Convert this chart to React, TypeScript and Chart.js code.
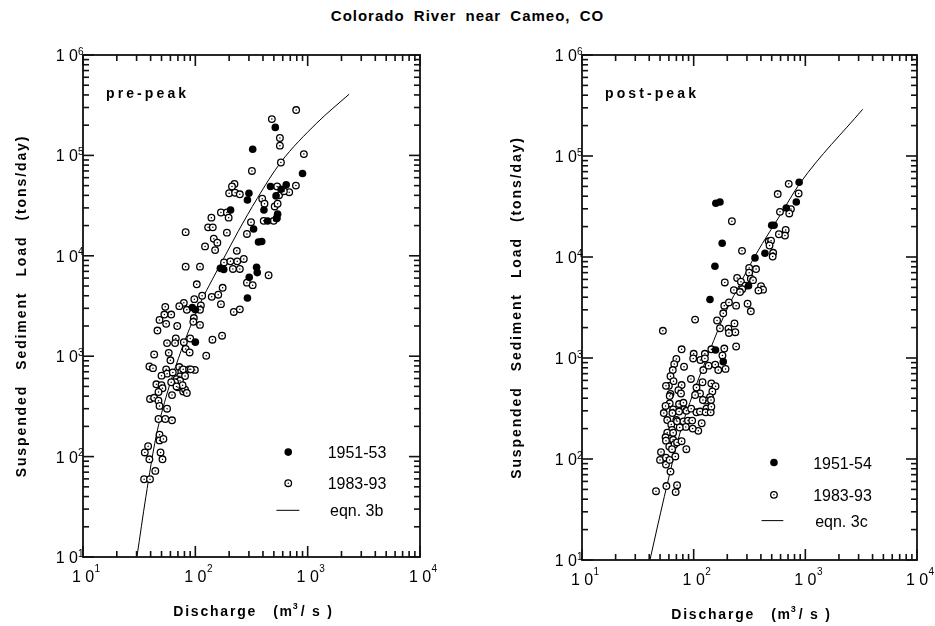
import React, { useEffect, useRef } from "react";
import { Chart, registerables } from "chart.js";
Chart.register(...registerables);

// ---------- data: pre-peak ----------
const preQ5153 = [515, 324, 900, 300, 291, 467, 644, 580, 523, 408, 440, 540, 530, 206, 330, 365, 390, 351, 356, 302, 291, 167, 179, 94, 100, 100];
const preL5153 = [190000, 115000, 66000, 42000, 36000, 49000, 51000, 46000, 39500, 28600, 22200, 26000, 23600, 28600, 18500, 13700, 13900, 7700, 6800, 6100, 3800, 7500, 7300, 3060, 2900, 1380];

const preQ8393 = [790, 480, 566, 566, 578, 925, 319, 223, 212, 200, 226, 249, 394, 413, 535, 556, 685, 786, 614, 509, 540, 406, 498, 530, 288, 313, 169, 191, 198, 139, 130, 143, 146, 157, 150, 122, 191, 82, 234, 180, 205, 216, 236, 249, 270, 82, 110, 288, 324, 449, 103, 115, 140, 160, 175, 169, 220, 249, 98, 79, 84, 72, 54, 61, 53, 48, 55, 46, 69, 112, 110, 97, 96, 110, 173, 67, 142, 125, 66, 79, 90, 82, 89, 56, 58, 60, 43, 39, 42, 55, 56, 50, 63, 72, 75, 78, 73, 81, 88, 99, 91, 68, 73, 70, 78, 81, 66, 84, 77, 45, 50, 51, 61, 68, 39.5, 43, 47, 48, 47, 62, 56, 47, 54, 62, 48, 48, 52, 38, 35.5, 39, 49, 51, 44, 35, 39.5];
const preL8393 = [283000, 230000, 149000, 125000, 85000, 103000, 70000, 52000, 49000, 42000, 42500, 41000, 37000, 33000, 49000, 40000, 43000, 50000, 44000, 31000, 33000, 22300, 22300, 23600, 16500, 21600, 27000, 27000, 24000, 24000, 19200, 19200, 14800, 13500, 11400, 12400, 17000, 17200, 11200, 8600, 8800, 7400, 8800, 7400, 9300, 7800, 7800, 5400, 5100, 6400, 5200, 4000, 3900, 4100, 4800, 3300, 2760, 2930, 3700, 3400, 2900, 3150, 3100, 2600, 2600, 2300, 2100, 1800, 2000, 3200, 2900, 2400, 2200, 2050, 1600, 1500, 1460, 1010, 1350, 1380, 1500, 1180, 1090, 1350, 1080, 910, 1040, 790, 760, 740, 670, 640, 690, 780, 700, 740, 630, 635, 740, 730, 740, 590, 570, 490, 445, 465, 550, 430, 515, 525, 515, 480, 550, 500, 375, 385, 360, 320, 440, 410, 300, 237, 237, 230, 165, 145, 150, 127, 110, 94, 110, 94, 72, 59.5, 59.5];

const preCurveQ = [30.2, 36.3, 44.7, 56.2, 70.8, 89.1, 112, 141, 178, 240, 355, 575, 1200, 2340];
const preCurveL = [10, 40, 158, 430, 955, 1900, 3470, 5750, 9330, 17400, 37200, 85100, 209000, 407000];

// ---------- data: post-peak ----------
const postQ5154 = [880, 830, 675, 500, 525, 435, 354, 310, 158, 172, 180, 155, 140, 157, 184];
const postL5154 = [55000, 35000, 30600, 20600, 20600, 10900, 9800, 5200, 34000, 35000, 13700, 8100, 3800, 1200, 920];

const postQ8393 = [710, 566, 871, 743, 718, 593, 667, 657, 580, 470, 493, 478, 515, 510, 220, 271, 190, 245, 265, 314, 314, 325, 362, 340, 401, 418, 380, 290, 272, 229, 260, 188, 184, 207, 240, 304, 325, 162, 172, 205, 232, 236, 207, 103, 53, 240, 78, 100, 126, 144, 188, 70, 99, 115, 126, 181, 67, 82, 122, 136, 156, 166, 193, 65, 62, 66, 60, 56.5, 94.5, 120, 106, 114, 78, 73, 77, 144, 157, 147, 140, 62, 128, 121, 103, 61, 61, 56, 65.5, 74, 81, 82, 54, 58, 64.5, 70, 74, 86, 95, 106, 114, 130, 128, 142, 143, 144, 63, 71, 81, 89, 97, 118, 110, 98, 85, 75, 64, 58, 56, 65.5, 56.5, 60.5, 65.5, 67.5, 71, 78, 64, 86, 51, 50, 56.5, 56.5, 61, 68.5, 62, 46, 57, 69, 71];
const postL8393 = [53000, 42000, 42600, 29800, 27000, 28000, 18500, 16300, 16800, 14300, 14500, 13000, 11000, 10100, 22600, 11500, 5600, 6200, 5700, 7800, 7000, 6100, 7600, 5900, 5150, 4750, 4650, 5200, 4800, 4700, 4500, 3300, 2770, 3550, 3300, 3450, 2900, 2350, 1970, 1950, 2200, 1800, 1770, 2400, 1860, 1300, 1220, 1100, 1100, 1220, 1240, 980, 990, 955, 990, 1060, 870, 820, 760, 840, 860, 760, 780, 760, 660, 590, 530, 530, 620, 575, 510, 445, 540, 480, 445, 560, 525, 467, 410, 440, 378, 384, 430, 420, 355, 335, 310, 350, 360, 310, 285, 243, 285, 243, 295, 300, 315, 290, 295, 315, 290, 290, 384, 330, 220, 236, 236, 240, 240, 226, 190, 200, 208, 205, 194, 182, 164, 182, 152, 133, 155, 140, 146, 150, 125, 125, 117, 98, 103, 88, 98, 106, 75, 48, 54, 47, 55];

const postCurveQ = [40.6, 54.6, 75.3, 99, 140, 191, 243, 366, 593, 895, 3260];
const postCurveL = [10, 42.4, 180, 447, 1200, 2770, 4710, 10900, 25800, 53700, 290000];

// ---------- axis tick labels ----------
const xDecades = [1, 2, 3, 4];
const yDecades = [1, 2, 3, 4, 5, 6];
const minorMultipliers = [2, 3, 4, 5, 6, 7, 8, 9];

const FONT = '"Liberation Sans", Arial, Helvetica, sans-serif';

type PanelCfg = {
  label: string;
  legendFilled: string;
  legendOpen: string;
  legendLine: string;
  pad: { left: number; right: number; top: number; bottom: number };
  yTitleX: number;
  tickColor: string;
  legend: { markerX: number; lineX0: number; lineX1: number; textX: number; eqTextX: number; y1: number; y2: number; y3: number };
};

function pts(q: number[], l: number[]) {
  return q.map((v, i) => ({ x: v, y: l[i] }));
}

function openCircle(ctx: CanvasRenderingContext2D, x: number, y: number) {
  ctx.beginPath();
  ctx.arc(x, y, 3.3, 0, Math.PI * 2);
  ctx.fillStyle = "#fff";
  ctx.fill();
  ctx.lineWidth = 1.3;
  ctx.strokeStyle = "#000";
  ctx.stroke();
  ctx.beginPath();
  ctx.arc(x, y, 0.75, 0, Math.PI * 2);
  ctx.fillStyle = "#000";
  ctx.fill();
}

function makeDecor(cfg: PanelCfg) {
  return {
    id: "decor",
    afterDatasetDraw(chart: any, args: any) {
      if (args.index !== 1) return;
      const ctx: CanvasRenderingContext2D = chart.ctx;
      ctx.save();
      ctx.fillStyle = "#000";
      for (const el of args.meta.data) {
        ctx.beginPath();
        ctx.arc(el.x, el.y, 0.75, 0, Math.PI * 2);
        ctx.fill();
      }
      ctx.restore();
    },
    afterDraw(chart: any) {
      const ctx: CanvasRenderingContext2D = chart.ctx;
      const a = chart.chartArea;
      const xs = chart.scales.x;
      const ys = chart.scales.y;
      const L0 = a.left, R0 = a.right, T0 = a.top, B0 = a.bottom;
      ctx.save();

      // ticks (inward, all four sides)
      ctx.fillStyle = cfg.tickColor;
      for (const e of xDecades) {
        const px = xs.getPixelForValue(Math.pow(10, e));
        ctx.fillRect(px - 0.8, T0, 1.6, 11);
        ctx.fillRect(px - 0.8, B0 - 11, 1.6, 11);
        if (e < 4) {
          for (const m of minorMultipliers) {
            const p2 = xs.getPixelForValue(m * Math.pow(10, e));
            ctx.fillRect(p2 - 0.8, T0, 1.6, 6);
            ctx.fillRect(p2 - 0.8, B0 - 6, 1.6, 6);
          }
        }
      }
      for (const e of yDecades) {
        const py = ys.getPixelForValue(Math.pow(10, e));
        ctx.fillRect(L0, py - 0.8, 11, 1.6);
        ctx.fillRect(R0 - 11, py - 0.8, 11, 1.6);
        if (e < 6) {
          for (const m of minorMultipliers) {
            const p2 = ys.getPixelForValue(m * Math.pow(10, e));
            ctx.fillRect(L0, p2 - 0.8, 6, 1.6);
            ctx.fillRect(R0 - 6, p2 - 0.8, 6, 1.6);
          }
        }
      }

      // frame
      ctx.strokeStyle = "#111";
      ctx.lineWidth = 1.8;
      ctx.strokeRect(L0, T0, R0 - L0, B0 - T0);

      // tick labels
      ctx.fillStyle = "#000";
      ctx.textBaseline = "alphabetic";
      for (const e of xDecades) {
        const px = xs.getPixelForValue(Math.pow(10, e));
        ctx.font = `16px ${FONT}`;
        ctx.textAlign = "center";
        const w = ctx.measureText("1 0").width;
        ctx.fillText("1 0", px, B0 + 25);
        ctx.font = `10px ${FONT}`;
        ctx.textAlign = "left";
        ctx.fillText(String(e), px + w / 2 + 0.5, B0 + 15);
      }
      for (const e of yDecades) {
        const py = ys.getPixelForValue(Math.pow(10, e));
        ctx.font = `16px ${FONT}`;
        ctx.textAlign = "right";
        ctx.fillText("1 0", L0 - 5, py + 6);
        ctx.font = `10px ${FONT}`;
        ctx.textAlign = "left";
        ctx.fillText(String(e), L0 - 5, py - 0.5);
      }

      // panel label
      ctx.font = `bold 14px ${FONT}`;
      ctx.textAlign = "left";
      (ctx as any).letterSpacing = "3.1px";
      ctx.fillText(cfg.label, L0 + 23, T0 + 43);
      (ctx as any).letterSpacing = "0px";

      // x title
      const cx = (L0 + R0) / 2 + 2;
      const by = B0 + 59;
      ctx.font = `bold 14px ${FONT}`;
      (ctx as any).letterSpacing = "1.8px";
      const w1 = ctx.measureText("Discharge").width;
      const w2 = ctx.measureText("(m").width;
      const w4 = ctx.measureText("/ s )").width;
      ctx.font = `bold 9px ${FONT}`;
      const w3 = ctx.measureText("3").width;
      const gap = 16;
      const total = w1 + gap + w2 + w3 + w4;
      let x0 = cx - total / 2;
      ctx.font = `bold 14px ${FONT}`;
      ctx.fillText("Discharge", x0, by);
      x0 += w1 + gap;
      ctx.fillText("(m", x0, by);
      x0 += w2;
      ctx.font = `bold 9px ${FONT}`;
      ctx.fillText("3", x0 - 1, by - 7);
      x0 += w3;
      ctx.font = `bold 14px ${FONT}`;
      ctx.fillText("/ s )", x0, by);
      (ctx as any).letterSpacing = "0px";

      // y title (rotated)
      ctx.save();
      const ty = (T0 + B0) / 2;
      ctx.translate(L0 - cfg.yTitleX, ty);
      ctx.rotate(-Math.PI / 2);
      ctx.font = `bold 14px ${FONT}`;
      (ctx as any).letterSpacing = "1.9px";
      const words = ["Suspended", "Sediment", "Load", "(tons/day)"];
      const ws = words.map((t) => ctx.measureText(t).width);
      const wgap = 15;
      const tot = ws.reduce((s, v) => s + v, 0) + wgap * (words.length - 1);
      let yx = -tot / 2;
      ctx.textBaseline = "middle";
      words.forEach((t, i) => {
        ctx.fillText(t, yx, 0);
        yx += ws[i] + wgap;
      });
      (ctx as any).letterSpacing = "0px";
      ctx.restore();

      // legend
      const Lg = cfg.legend;
      const lw = R0 - L0;
      const lh = B0 - T0;
      const mx = L0 + Lg.markerX * lw;
      const y1 = T0 + Lg.y1 * lh;
      const y2 = T0 + Lg.y2 * lh;
      const y3 = T0 + Lg.y3 * lh;
      ctx.beginPath();
      ctx.arc(mx, y1, 3.8, 0, Math.PI * 2);
      ctx.fillStyle = "#000";
      ctx.fill();
      openCircle(ctx, mx, y2);
      ctx.fillStyle = "#000";
      ctx.fillRect(L0 + Lg.lineX0 * lw, y3 - 0.5, (Lg.lineX1 - Lg.lineX0) * lw, 1);
      ctx.font = `16px ${FONT}`;
      ctx.textAlign = "left";
      ctx.textBaseline = "alphabetic";
      ctx.fillText(cfg.legendFilled, L0 + Lg.textX * lw, y1 + 6);
      ctx.fillText(cfg.legendOpen, L0 + Lg.textX * lw, y2 + 6);
      ctx.fillText(cfg.legendLine, L0 + Lg.eqTextX * lw, y3 + 6);
      ctx.restore();
    },
  };
}

function Panel(props: {
  width: number;
  left: number;
  cfg: PanelCfg;
  filled: { x: number; y: number }[];
  open: { x: number; y: number }[];
  curve: { x: number; y: number }[];
}) {
  const ref = useRef<HTMLCanvasElement>(null);
  useEffect(() => {
    const canvas = ref.current!;
    const chart = new Chart(canvas, {
      type: "scatter",
      data: {
        datasets: [
          {
            label: props.cfg.legendFilled,
            data: props.filled,
            pointStyle: "circle",
            pointRadius: 3.8,
            backgroundColor: "#000",
            borderColor: "#000",
            borderWidth: 0,
          },
          {
            label: props.cfg.legendOpen,
            data: props.open,
            pointStyle: "circle",
            pointRadius: 3.3,
            backgroundColor: "#fff",
            borderColor: "#000",
            borderWidth: 1.3,
          },
          {
            label: props.cfg.legendLine,
            data: props.curve,
            showLine: true,
            pointRadius: 0,
            borderColor: "#000",
            borderWidth: 1,
            cubicInterpolationMode: "monotone",
            fill: false,
          } as any,
        ],
      },
      options: {
        animation: false,
        responsive: false,
        events: [],
        layout: { padding: props.cfg.pad },
        plugins: { legend: { display: false }, tooltip: { enabled: false } },
        scales: {
          x: { type: "logarithmic", min: 10, max: 10000, display: false },
          y: { type: "logarithmic", min: 10, max: 1000000, display: false },
        },
      },
      plugins: [makeDecor(props.cfg)],
    });
    return () => chart.destroy();
  }, []);
  return (
    <canvas
      ref={ref}
      width={props.width}
      height={626}
      style={{ position: "absolute", left: props.left, top: 0, width: props.width, height: 626 }}
    />
  );
}

const preCfg: PanelCfg = {
  label: "pre-peak",
  legendFilled: "1951-53",
  legendOpen: "1983-93",
  legendLine: "eqn. 3b",
  pad: { left: 83, right: 47, top: 55, bottom: 69 },
  yTitleX: 60.5,
  tickColor: "#111111",
  legend: { markerX: 0.609, lineX0: 0.574, lineX1: 0.642, textX: 0.726, eqTextX: 0.733, y1: 0.791, y2: 0.853, y3: 0.907 },
};

const postCfg: PanelCfg = {
  label: "post-peak",
  legendFilled: "1951-54",
  legendOpen: "1983-93",
  legendLine: "eqn. 3c",
  pad: { left: 115, right: 18, top: 55, bottom: 66 },
  yTitleX: 65,
  tickColor: "#111111",
  legend: { markerX: 0.573, lineX0: 0.536, lineX1: 0.601, textX: 0.69, eqTextX: 0.696, y1: 0.807, y2: 0.871, y3: 0.922 },
};

export default function App() {
  return (
    <div style={{ position: "absolute", left: 0, top: 0, width: 935, height: 626, background: "#fff", overflow: "hidden" }}>
      <div
        style={{
          position: "absolute",
          left: 0,
          top: 7,
          width: 935,
          textAlign: "center",
          font: `bold 15px ${FONT}`,
          letterSpacing: "1px",
          wordSpacing: "4px",
          lineHeight: "17px",
          color: "#000",
        }}
      >
        Colorado River near Cameo, CO
      </div>
      <Panel width={467} left={0} cfg={preCfg} filled={pts(preQ5153, preL5153)} open={pts(preQ8393, preL8393)} curve={pts(preCurveQ, preCurveL)} />
      <Panel width={468} left={467} cfg={postCfg} filled={pts(postQ5154, postL5154)} open={pts(postQ8393, postL8393)} curve={pts(postCurveQ, postCurveL)} />
    </div>
  );
}
